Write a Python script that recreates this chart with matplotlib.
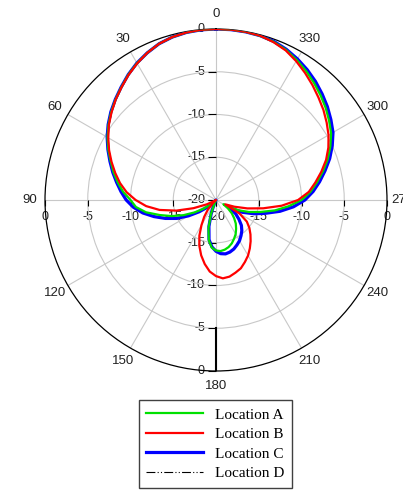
import numpy as np
import matplotlib.pyplot as plt

# radiation pattern, dB, read every 5 degrees (0..355)
angles_deg = np.arange(0, 360, 5)

loc_a = [0.0, -0.02, -0.1, -0.27, -0.55, -1.0, -1.52, -2.12, -2.78, -3.38,
         -4.0, -4.65, -5.35, -6.1, -6.9, -7.6, -8.35, -9.1, -10.0, -10.6,
         -11.7, -13.2, -14.5, -15.8, -17.1, -18.2, -19.2, -20, -20, -20,
         -20, -19.8, -18.3, -16.6, -15.2, -14.4, -14.1, -14.0, -14.1, -14.3,
         -14.6, -15.0, -15.4, -15.9, -16.4, -17.0, -17.6, -18.3, -19.0, -17.2,
         -15.9, -14.6, -13.0, -11.5, -10.0, -8.9, -8.0, -7.05, -6.1, -5.25,
         -4.45, -3.85, -3.25, -2.7, -2.15, -1.6, -1.1, -0.62, -0.3, -0.11,
         -0.03, 0.0]

loc_b = [0.0, -0.02, -0.1, -0.27, -0.55, -1.0, -1.55, -2.15, -2.8, -3.4,
         -4.05, -4.7, -5.45, -6.2, -7.0, -7.8, -8.6, -9.5, -10.6, -11.8,
         -13.3, -15.2, -17.2, -18.8, -19.7, -20, -20, -19.5, -18.5, -17.6,
         -16.6, -15.4, -14.3, -13.3, -12.4, -11.6, -11.1, -10.8, -10.9, -11.2,
         -11.5, -12.0, -12.5, -13.1, -13.7, -14.3, -14.9, -15.6, -16.8, -18.8,
         -17.7, -16.2, -14.4, -12.3, -10.4, -9.1, -8.2, -7.25, -6.3, -5.5,
         -4.8, -4.2, -3.6, -3.05, -2.45, -1.85, -1.25, -0.7, -0.35, -0.1,
         -0.03, 0.0]

loc_c = [0.0, -0.02, -0.1, -0.27, -0.55, -1.0, -1.5, -2.1, -2.75, -3.35,
         -3.95, -4.6, -5.3, -6.05, -6.8, -7.5, -8.2, -8.85, -9.5, -10.3,
         -11.3, -12.5, -13.7, -14.9, -16.3, -17.6, -18.7, -19.5, -20, -20,
         -20, -19.6, -18.4, -16.8, -15.3, -14.5, -14.0, -13.7, -13.6, -13.7,
         -13.9, -14.2, -14.5, -14.9, -15.3, -15.8, -16.5, -17.2, -18.2, -16.6,
         -15.3, -14.0, -12.4, -10.9, -9.6, -8.6, -7.7, -6.8, -5.85, -5.0,
         -4.2, -3.6, -3.0, -2.45, -1.9, -1.4, -0.95, -0.55, -0.25, -0.1,
         -0.03, 0.0]

# location D lies under location C almost everywhere
loc_d = [0.0, -0.02, -0.1, -0.27, -0.55, -1.0, -1.5, -2.1, -2.75, -3.35,
         -3.95, -4.6, -5.3, -6.05, -6.8, -7.5, -8.2, -8.85, -9.55, -10.35,
         -11.35, -12.55, -13.75, -14.95, -16.3, -17.6, -18.7, -19.5, -20, -20,
         -20, -19.6, -18.4, -16.8, -15.3, -14.5, -14.0, -13.7, -13.6, -13.7,
         -13.9, -14.2, -14.5, -14.9, -15.3, -15.8, -16.5, -17.2, -18.2, -16.6,
         -15.3, -14.0, -12.4, -10.9, -9.6, -8.6, -7.7, -6.8, -5.85, -5.0,
         -4.2, -3.6, -3.0, -2.45, -1.9, -1.4, -0.95, -0.55, -0.25, -0.1,
         -0.03, 0.0]

labels = ['Location A', 'Location B', 'Location C', 'Location D']
theta_ticks = list(range(0, 360, 30))
r_ticks = [0, -5, -10, -15, -20]

theta = np.deg2rad(np.append(angles_deg, 360))


def closed(v):
    return np.clip(np.append(v, v[0]), -20, 0)


fig = plt.figure(figsize=(4.03, 4.90), dpi=100)
ax = fig.add_axes([45 / 403, 119 / 490, 342 / 403, 342 / 490], projection='polar')
ax.set_theta_zero_location('N')
ax.set_theta_direction(1)
ax.set_rlim(-20, 0)
ax.set_rticks([-15, -10, -5])
ax.set_yticklabels([])
ax.set_thetagrids(theta_ticks, [str(t) for t in theta_ticks],
                  fontsize=9.5, family='Liberation Sans', color='#222222')
ax.grid(color='#c8c8c8', lw=0.8)
ax.spines['polar'].set_color('black')
ax.spines['polar'].set_linewidth(0.9)
ax.tick_params(axis='x', pad=0, length=4, direction='out', color='black')

la, = ax.plot(theta, closed(loc_a), color='#00e000', lw=1.6, zorder=4)
lb, = ax.plot(theta, closed(loc_b), color='#ff0000', lw=1.6, zorder=5)
lc, = ax.plot(theta, closed(loc_c), color='#0000ff', lw=2.3, zorder=3)
ld, = ax.plot(theta, closed(loc_d), color='black', lw=0.8,
              dashes=(8, 2, 1, 2, 1, 2), zorder=2.5)

# radial scale labels along the two axis lines
font = dict(fontsize=9, family='Liberation Sans', color='#222222',
            annotation_clip=False, zorder=1.5)
for r in r_ticks:
    ax.annotate(str(r), xy=(0, r), xytext=(-11, 0), textcoords='offset pixels',
                ha='right', va='center', **font)
for r in r_ticks[:-1]:
    ax.annotate(str(r), xy=(np.pi, r), xytext=(-11, 0), textcoords='offset pixels',
                ha='right', va='center', **font)
    ax.annotate(str(r), xy=(np.pi / 2, r), xytext=(0, -17), textcoords='offset pixels',
                ha='center', va='center', **font)
    ax.annotate(str(r), xy=(3 * np.pi / 2, r), xytext=(0, -17), textcoords='offset pixels',
                ha='center', va='center', **font)
ax.annotate('-20', xy=(0, -20), xytext=(0, -17), textcoords='offset pixels',
            ha='center', va='center', **font)

r_all = np.array(r_ticks, dtype=float)
ax.plot(np.zeros(5), r_all, ls='none', marker=0, ms=6, mew=0.8, color='k', clip_on=False)
ax.plot(np.full(5, np.pi), r_all, ls='none', marker=0, ms=6, mew=0.8, color='k', clip_on=False)
ax.plot(np.full(5, np.pi / 2), r_all, ls='none', marker=3, ms=4, mew=0.8, color='k', clip_on=False)
ax.plot(np.full(5, 3 * np.pi / 2), r_all, ls='none', marker=3, ms=4, mew=0.8, color='k', clip_on=False)
ax.plot([np.pi, np.pi], [-5, 0], color='black', lw=1.5, zorder=2)

fig.legend([la, lb, lc, ld], labels, loc='upper center', bbox_to_anchor=(0.534, 0.183),
           prop={'family': 'Liberation Serif', 'size': 11}, frameon=True, fancybox=False,
           edgecolor='#404040', framealpha=1, handlelength=3.7, labelspacing=0.38,
           borderaxespad=0, borderpad=0.5)

fig.savefig('out.png', dpi=100)
